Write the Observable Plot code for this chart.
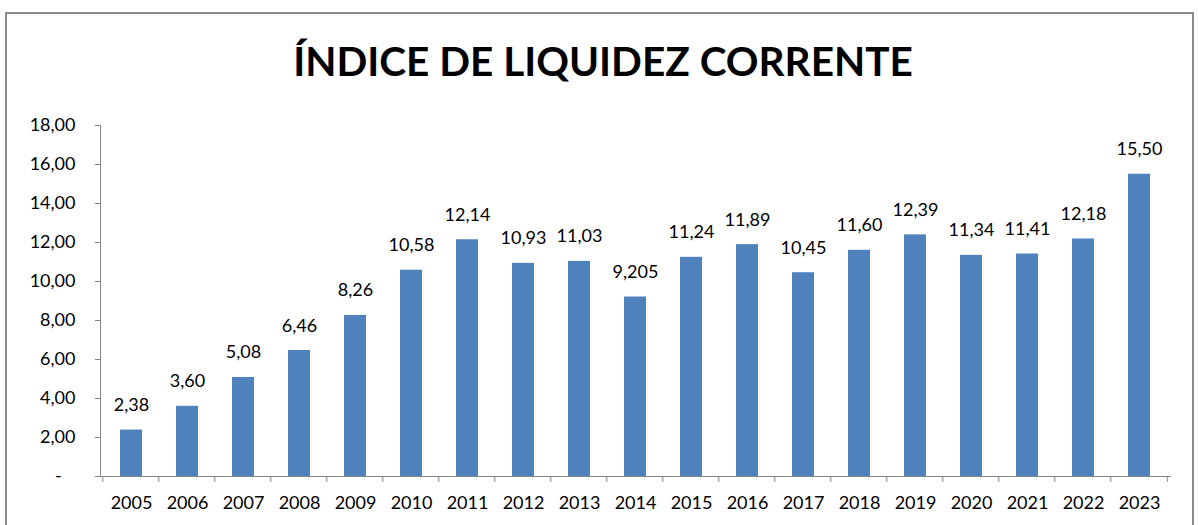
<!DOCTYPE html>
<html>
<head>
<meta charset="utf-8">
<script src="https://cdn.jsdelivr.net/npm/d3@7"></script>
<script src="https://cdn.jsdelivr.net/npm/@observablehq/plot@0.6"></script>
<style>
  html, body { margin: 0; padding: 0; background: #fff; }
  #wrap { position: relative; width: 1198px; height: 525px; overflow: hidden; font-family: Lato, "Open Sans", sans-serif; }
  #frame { position: absolute; left: 5px; top: 12px; width: 1189px; height: 560px; border: 2px solid #8c8c8c; box-sizing: border-box; }
  #title { position: absolute; left: 0; top: 36px; width: 1198px; text-align: center; font-weight: bold; font-size: 44px; color: #000; white-space: nowrap; }
  #title span { display: inline-block; margin-left: 8px; }
  #chart { position: absolute; left: 0; top: 0; }
</style>
</head>
<body>
<div id="wrap">
  <div id="frame"></div>
  <div id="title"><span id="tt">ÍNDICE DE LIQUIDEZ CORRENTE</span></div>
  <div id="chart"></div>
</div>
<script>
const years = ["2005","2006","2007","2008","2009","2010","2011","2012","2013","2014","2015","2016","2017","2018","2019","2020","2021","2022","2023"];
const values = [2.38, 3.60, 5.08, 6.46, 8.26, 10.58, 12.14, 10.93, 11.03, 9.205, 11.24, 11.89, 10.45, 11.60, 12.39, 11.34, 11.41, 12.18, 15.50];
const valueLabels = ["2,38","3,60","5,08","6,46","8,26","10,58","12,14","10,93","11,03","9,205","11,24","11,89","10,45","11,60","12,39","11,34","11,41","12,18","15,50"];
const yTicks = [0, 2, 4, 6, 8, 10, 12, 14, 16, 18];

const data = years.map((y, i) => ({year: y, value: values[i], label: valueLabels[i]}));
const axisColor = "#868686";

function axisDecor(index, scales, values, dims) {
  const {x, y} = scales;
  const n = years.length;
  const step = (dims.width - dims.marginLeft - dims.marginRight) / n;
  const bw = typeof x.bandwidth === "function" ? x.bandwidth() : 0.4 * step;
  const y0 = y(0);
  const g = d3.create("svg:g").attr("stroke", axisColor).attr("fill", "none");
  g.append("line").attr("x1", dims.marginLeft + 0.5).attr("x2", dims.marginLeft + 0.5)
    .attr("y1", y(18)).attr("y2", y0);
  const bounds = years.map(yr => x(yr) + bw / 2 - step / 2);
  bounds.push(x(years[n - 1]) + bw / 2 + step / 2);
  bounds.forEach(b => {
    g.append("line").attr("x1", b).attr("x2", b).attr("y1", y0).attr("y2", y0 + 6);
  });
  return g.node();
}

const plot = Plot.plot({
  width: 1198,
  height: 525,
  marginLeft: 100,
  marginRight: 27,
  marginTop: 125,
  marginBottom: 49,
  style: {fontFamily: "Lato, 'Open Sans', sans-serif", fontSize: "18px", color: "#000", background: "transparent"},
  x: {type: "band", domain: years, paddingInner: 0.6, paddingOuter: 0.3, axis: null, label: null},
  y: {domain: [0, 18], axis: null, label: null},
  marks: [
    Plot.axisY({
      ticks: yTicks,
      tickSize: 5,
      tickPadding: 20,
      stroke: axisColor,
      label: null,
      tickFormat: d => d === 0 ? "-\u00a0\u00a0\u00a0" : d.toFixed(2).replace(".", ","),
      fontSize: 18
    }),
    Plot.barY(data, {x: "year", y: "value", fill: "#4F81BD"}),
    Plot.ruleY([0], {stroke: axisColor}),
    axisDecor,
    Plot.text(data, {x: "year", y: "value", text: "label", lineAnchor: "bottom", dy: -19, fontSize: 18, fill: "#000"}),
    Plot.axisX({tickSize: 0, tickPadding: 20, fontSize: 18, label: null})
  ]
});
document.getElementById("chart").appendChild(plot);

const tt = document.getElementById("tt");
const w = tt.getBoundingClientRect().width;
if (w > 0) {
  const fs = 44 * 620 / w;
  document.getElementById("title").style.fontSize = fs + "px";
}
</script>
</body>
</html>
